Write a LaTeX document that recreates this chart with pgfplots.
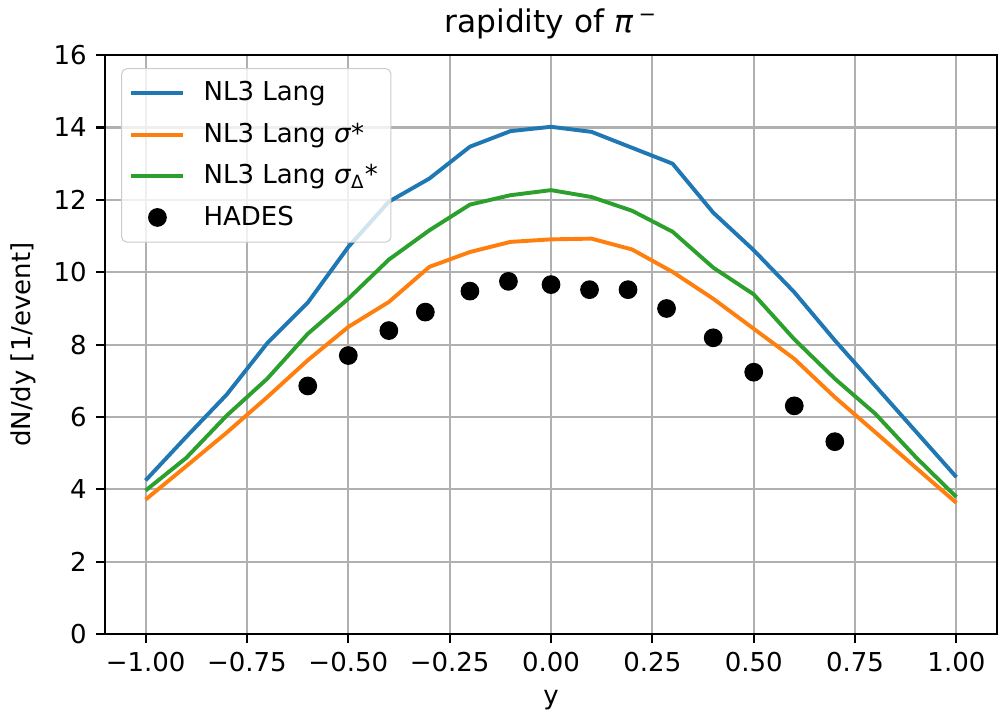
\documentclass[border=0pt]{standalone}
\usepackage{pgfplots}
\pgfplotsset{compat=1.18}
\usepackage{fontspec}
\setmainfont{DejaVu Sans}
\definecolor{c0}{HTML}{1F77B4}
\definecolor{c1}{HTML}{FF7F0E}
\definecolor{c2}{HTML}{2CA02C}
\definecolor{gridc}{HTML}{B0B0B0}
\definecolor{legc}{HTML}{CCCCCC}
\begin{document}
\begin{tikzpicture}
\begin{axis}[name=ax, scale only axis, width=343pt, height=222.7pt,
  xmin=-1.1, xmax=1.1, ymin=0, ymax=16,
  xtick={-1,-0.75,-0.5,-0.25,0,0.25,0.5,0.75,1},
  xticklabels={−1.00,−0.75,−0.50,−0.25,0.00,0.25,0.50,0.75,1.00},
  ytick={0,2,4,6,8,10,12,14,16},
  yticklabels={0,2,4,6,8,10,12,14,16},
  tick pos=left, tick align=outside, major tick length=3.5pt,
  tick style={black, line width=0.8pt},
  axis line style={line width=0.8pt},
  grid=major, major grid style={color=gridc, line width=0.8pt},
  ticklabel style={font=\fontsize{10}{12}\selectfont},
  title={rapidity of \textit{π}\,\textsuperscript{−}},
  title style={font=\fontsize{12}{14}\selectfont, at={(0.5,1)}, anchor=south, inner sep=0pt},
  xlabel={y}, ylabel={dN/dy [1/event]},
  label style={font=\fontsize{10}{12}\selectfont},
  legend style={at={(rel axis cs:0,1)}, anchor=north west, xshift=6.2pt, yshift=-5pt,
    draw=legc, fill=white, fill opacity=0.8, text opacity=1, rounded corners=2pt,
    font=\fontsize{10}{12}\selectfont, inner xsep=3pt, inner ysep=3pt, row sep=3pt,
    column sep=5pt},
  legend cell align=left,
  legend image code/.code={\draw[mark repeat=2,mark phase=2,#1,fill opacity=1,draw opacity=1] plot coordinates {(0pt,0pt) (10pt,0pt) (20pt,0pt)};},
]
\addplot[c0, line width=1.5pt, no marks] coordinates {
(-1.0,4.25) (-0.9,5.45) (-0.8,6.62) (-0.7,8.04) (-0.6,9.16) (-0.5,10.70) (-0.4,11.95)
(-0.3,12.59) (-0.2,13.47) (-0.1,13.90) (0.0,14.02) (0.1,13.88) (0.2,13.44) (0.3,13.00)
(0.4,11.65) (0.5,10.61) (0.6,9.45) (0.7,8.12) (0.8,6.86) (0.9,5.60) (1.0,4.34)};
\addlegendentry{NL3 Lang}
\addplot[c1, line width=1.5pt, no marks] coordinates {
(-1.0,3.72) (-0.9,4.64) (-0.8,5.57) (-0.7,6.55) (-0.6,7.57) (-0.5,8.49) (-0.4,9.18)
(-0.3,10.15) (-0.2,10.56) (-0.1,10.84) (0.0,10.91) (0.1,10.93) (0.2,10.63) (0.3,10.01)
(0.4,9.27) (0.5,8.44) (0.6,7.61) (0.7,6.55) (0.8,5.58) (0.9,4.60) (1.0,3.63)};
\addlegendentry{NL3 Lang \textit{σ}*}
\addplot[c2, line width=1.5pt, no marks] coordinates {
(-1.0,3.97) (-0.9,4.87) (-0.8,6.04) (-0.7,7.06) (-0.6,8.30) (-0.5,9.27) (-0.4,10.35)
(-0.3,11.16) (-0.2,11.87) (-0.1,12.13) (0.0,12.27) (0.1,12.08) (0.2,11.70) (0.3,11.12)
(0.4,10.13) (0.5,9.39) (0.6,8.15) (0.7,7.06) (0.8,6.09) (0.9,4.89) (1.0,3.79)};
\addlegendentry{NL3 Lang \textit{σ}\textsubscript{Δ}*}
\addplot[only marks, mark=*, mark size=3.4pt, black] coordinates {
(-0.6,6.86) (-0.5,7.70) (-0.4,8.39) (-0.31,8.90) (-0.2,9.48) (-0.105,9.75) (0.0,9.66)
(0.095,9.52) (0.19,9.52) (0.285,9.00) (0.4,8.19) (0.5,7.24) (0.6,6.31) (0.7,5.32)};
\addlegendentry{HADES}
\end{axis}
\pgfresetboundingbox
\path[use as bounding box] ([shift={(-40.4pt,-32.3pt)}]ax.south west) rectangle ([shift={(0.4pt,21.2pt)}]ax.north east);
\end{tikzpicture}
\end{document}
